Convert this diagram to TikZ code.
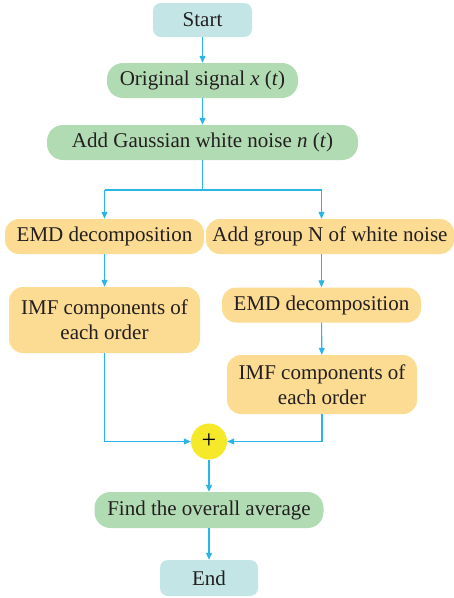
\documentclass[tikz,border=0pt]{standalone}
\usepackage{fontspec}
\setmainfont{Liberation Serif}
\usetikzlibrary{arrows.meta}
\definecolor{tealbox}{HTML}{C3E5E5}
\definecolor{greenbox}{HTML}{B1DBB3}
\definecolor{orangebox}{HTML}{FCDB92}
\definecolor{yellowc}{HTML}{F5E92A}
\definecolor{arrowblue}{HTML}{29B5E8}
\definecolor{textc}{HTML}{231F20}
\begin{document}
\begin{tikzpicture}[x=1pt,y=-1pt,
  base/.style={inner sep=0pt, align=center, text=textc, font=\fontsize{21}{25}\selectfont, rounded corners=12pt},
  term/.style={base, fill=tealbox, rounded corners=8pt},
  gbox/.style={base, fill=greenbox, rounded corners=16pt},
  obox/.style={base, fill=orangebox, rounded corners=14pt},
  conn/.style={arrowblue, line width=1.1pt, -{Triangle[length=7pt,width=6pt]}},
  line/.style={arrowblue, line width=1.1pt}]
\useasboundingbox (0,0) rectangle (454,598);
\node[term, minimum width=99pt, minimum height=34pt] (start) at (202.5,20) {Start};
\node[gbox, minimum width=191pt, minimum height=35pt] (orig) at (202.5,80.5) {Original signal \textit{x} (\textit{t})};
\node[gbox, minimum width=311pt, minimum height=35pt] (gauss) at (202.5,142.5) {Add Gaussian white noise \textit{n} (\textit{t})};
\node[obox, minimum width=199pt, minimum height=35pt] (emdl) at (104.5,236.5) {EMD decomposition};
\node[obox, minimum width=248pt, minimum height=35pt] (addn) at (330,236.5) {Add group N of white noise};
\node[obox, minimum width=191pt, minimum height=66pt] (imfl) at (104.5,320) {IMF components of\\each order};
\node[obox, minimum width=199pt, minimum height=35pt] (emdr) at (321.5,305) {EMD decomposition};
\node[obox, minimum width=190pt, minimum height=59pt] (imfr) at (322,384.5) {IMF components of\\each order};
\node[circle, fill=yellowc, minimum size=36pt, inner sep=0pt, font=\fontsize{26}{26}\selectfont] (plus) at (209,441.5) {+};
\node[gbox, minimum width=229pt, minimum height=36pt] (avg) at (209,510) {Find the overall average};
\node[term, minimum width=98pt, minimum height=36pt] (end) at (209,578) {End};
\coordinate (split) at (202.5,190);
\coordinate (splitl) at (104.5,190);
\coordinate (splitr) at (321.5,190);
\coordinate (cornl) at (104.5,441.5);
\coordinate (cornr) at (322,441.5);
\draw[conn] (start) -- (orig);
\draw[conn] (orig) -- (gauss);
\draw[line] (gauss) -- (split);
\draw[line] (splitl) -- (splitr);
\draw[conn] (splitl) -- (emdl);
\draw[conn] (splitr) -- (splitr |- addn.north);
\draw[conn] (emdl) -- (imfl);
\draw[conn] (emdr |- addn.south) -- (emdr);
\draw[conn] (emdr) -- (imfr);
\draw[line] (imfl) -- (cornl);
\draw[conn] (cornl) -- (plus);
\draw[line] (imfr) -- (cornr);
\draw[conn] (cornr) -- (plus);
\draw[conn] (plus) -- (avg);
\draw[conn] (avg) -- (end);
\end{tikzpicture}
\end{document}
